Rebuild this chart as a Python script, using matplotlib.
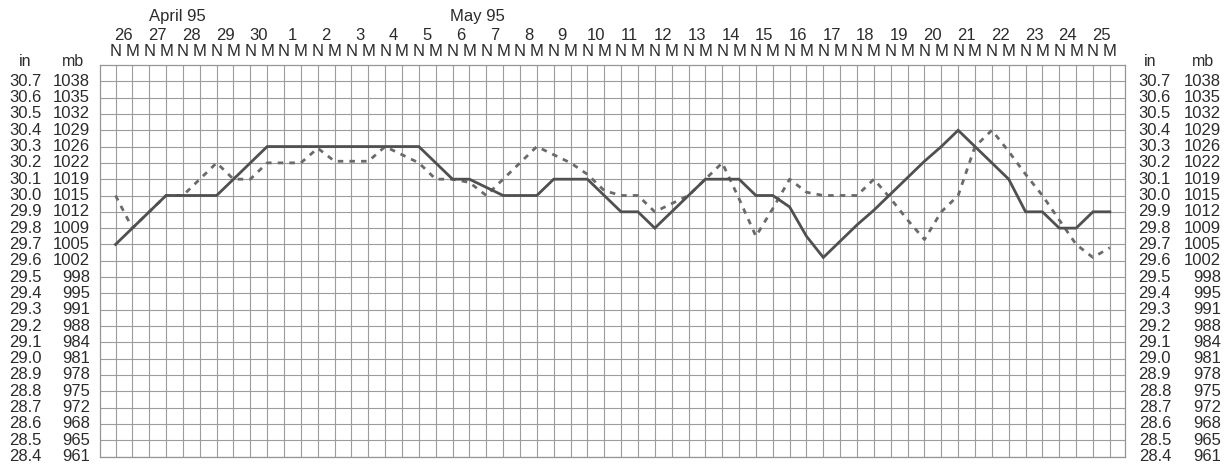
import matplotlib
matplotlib.use("Agg")
import matplotlib.pyplot as plt
from matplotlib import transforms

plt.rcParams['font.family'] = ['Liberation Sans', 'DejaVu Sans']

# Calendar: April 26 -> May 25, 1995, two readings per day (N = noon, M = midnight)
day_labels = ['26', '27', '28', '29', '30', '1', '2', '3', '4', '5', '6', '7', '8',
              '9', '10', '11', '12', '13', '14', '15', '16', '17', '18', '19', '20',
              '21', '22', '23', '24', '25']
slot_labels = ['N', 'M']
month_labels = ['April 95', 'May 95']
month_centres = [3.7, 21.5]

# Pressure scale (inches of mercury / millibars)
inch_labels = ['30.7', '30.6', '30.5', '30.4', '30.3', '30.2', '30.1', '30.0', '29.9',
               '29.8', '29.7', '29.6', '29.5', '29.4', '29.3', '29.2', '29.1', '29.0',
               '28.9', '28.8', '28.7', '28.6', '28.5', '28.4']
mb_labels = ['1038', '1035', '1032', '1029', '1026', '1022', '1019', '1015', '1012',
             '1009', '1005', '1002', '998', '995', '991', '988', '984', '981',
             '978', '975', '972', '968', '965', '961']

# Readings in inches, one per N/M slot
pressure_solid = [29.70, 29.80, 29.90, 30.00, 30.00, 30.00, 30.00, 30.10, 30.20, 30.30,
                  30.30, 30.30, 30.30, 30.30, 30.30, 30.30, 30.30, 30.30, 30.30, 30.20,
                  30.10, 30.10, 30.05, 30.00, 30.00, 30.00, 30.10, 30.10, 30.10, 30.00,
                  29.90, 29.90, 29.80, 29.90, 30.00, 30.10, 30.10, 30.10, 30.00, 30.00,
                  29.93, 29.75, 29.62, 29.72, 29.82, 29.91, 30.01, 30.11, 30.21, 30.30,
                  30.40, 30.30, 30.20, 30.10, 29.90, 29.90, 29.80, 29.80, 29.90, 29.90]
pressure_dashed = [30.00, 29.80, 29.90, 30.00, 30.00, 30.10, 30.20, 30.10, 30.10, 30.20,
                   30.20, 30.20, 30.29, 30.21, 30.21, 30.21, 30.30, 30.25, 30.20, 30.10,
                   30.10, 30.08, 30.00, 30.10, 30.20, 30.30, 30.25, 30.20, 30.13, 30.03,
                   30.00, 30.00, 29.90, 29.95, 30.00, 30.10, 30.20, 29.98, 29.75, 29.92,
                   30.10, 30.02, 30.00, 30.00, 30.00, 30.10, 29.98, 29.85, 29.73, 29.90,
                   30.00, 30.30, 30.40, 30.27, 30.13, 30.00, 29.85, 29.70, 29.62, 29.68]

W, H = 1227, 465
fig = plt.figure(figsize=(W / 100, H / 100), dpi=100)
fig.patch.set_facecolor('white')

left_px, right_px, top_px, bottom_px = 100, 1125, 65, 456.5
ax = fig.add_axes([left_px / W, 1 - bottom_px / H,
                   (right_px - left_px) / W, (bottom_px - top_px) / H])

n_slots = len(day_labels) * len(slot_labels)
slots = list(range(n_slots))
ax.set_xlim(-0.92, n_slots - 0.1)
ax.set_ylim(28.4, 30.8)

grid_col = '#9c9c9c'
for s in slots:
    ax.axvline(s, color=grid_col, lw=0.8, zorder=1)
levels = [float(v) for v in inch_labels]
for v in levels:
    ax.axhline(v, color=grid_col, lw=0.8, zorder=1)
for sp in ax.spines.values():
    sp.set_color('#959595')
    sp.set_linewidth(0.9)
ax.set_xticks([])
ax.set_yticks([])

ax.plot(slots, pressure_solid, color='#505050', lw=2.0, solid_joinstyle='miter', zorder=3)
ax.plot(slots, pressure_dashed, color='#6a6a6a', lw=2.0, dashes=(2.0, 2.2), zorder=2)

text_col = '#2b2b2b'
fs = 12

# Pressure scales on both sides
ytrans = transforms.blended_transform_factory(fig.transFigure, ax.transData)
for lab_in, lab_mb, v in zip(inch_labels, mb_labels, levels):
    for xin, xmb in ((42, 90), (1171, 1221)):
        fig.text(xin / W, v, lab_in, transform=ytrans, ha='right', va='center',
                 fontsize=fs, color=text_col)
        fig.text(xmb / W, v, lab_mb, transform=ytrans, ha='right', va='center',
                 fontsize=fs, color=text_col)
for xin, xmb in ((25, 73), (1150, 1203)):
    fig.text(xin / W, 1 - 61 / H, 'in', ha='center', va='center', fontsize=fs - 0.5,
             color=text_col)
    fig.text(xmb / W, 1 - 61 / H, 'mb', ha='center', va='center', fontsize=fs - 0.5,
             color=text_col)

# Header: months, days, N/M slots
xtrans = transforms.blended_transform_factory(ax.transData, fig.transFigure)
for s in slots:
    ax.text(s, 1 - 52 / H, slot_labels[s % 2], transform=xtrans, ha='center',
            va='center', fontsize=fs, color=text_col)
for d, lab in enumerate(day_labels):
    ax.text(2 * d + 0.5, 1 - 35 / H, lab, transform=xtrans, ha='center', va='center',
            fontsize=fs, color=text_col)
for lab, c in zip(month_labels, month_centres):
    ax.text(c, 1 - 17 / H, lab, transform=xtrans, ha='center', va='center',
            fontsize=fs, color=text_col)

fig.savefig('out.png', dpi=100, facecolor='white')
